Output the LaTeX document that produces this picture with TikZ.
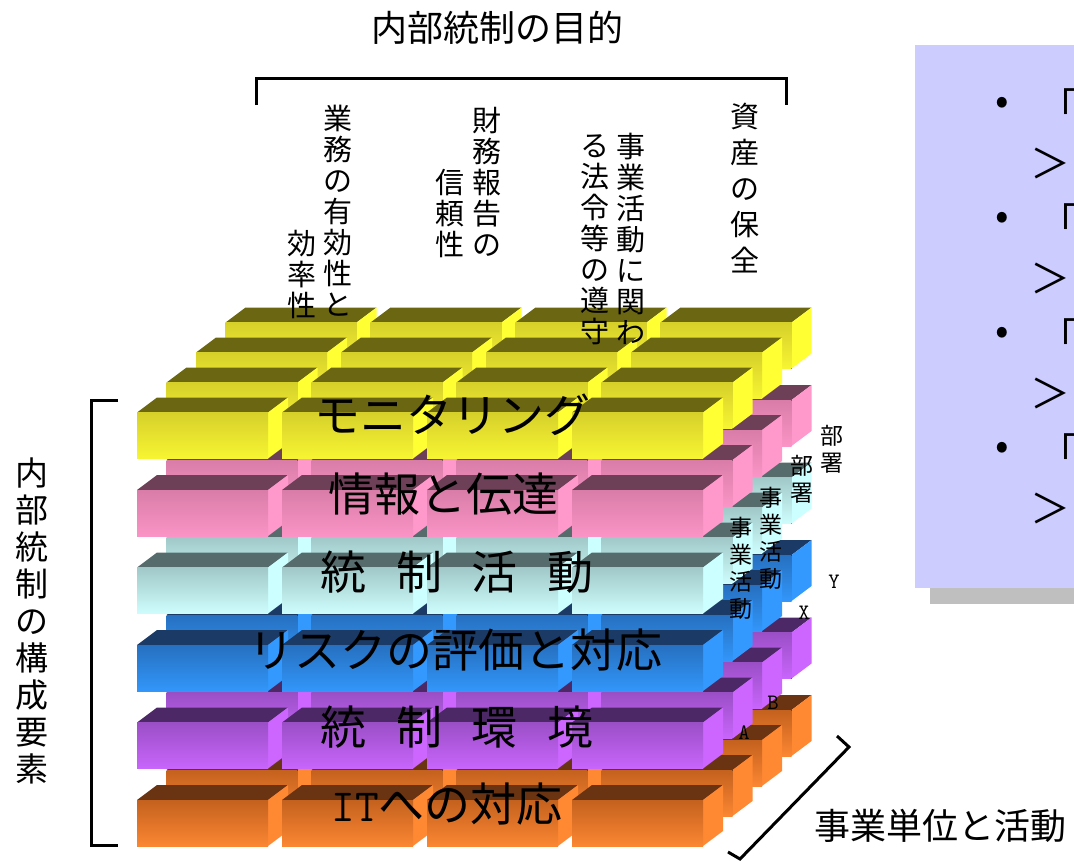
\documentclass[tikz,border=0pt]{standalone}
\usepackage{fontspec}
\setmainfont{Noto Sans CJK JP}
\usepackage{tikz}
\definecolor{yelT}{HTML}{6B6611}
\definecolor{yelA}{HTML}{D6D02A}
\definecolor{yelB}{HTML}{F7F532}
\definecolor{yelS}{HTML}{FFFF33}
\definecolor{pnkT}{HTML}{6E4058}
\definecolor{pnkA}{HTML}{D97DA8}
\definecolor{pnkB}{HTML}{FA94C6}
\definecolor{pnkS}{HTML}{FF99CC}
\definecolor{cyaT}{HTML}{566B6B}
\definecolor{cyaA}{HTML}{A0C8C8}
\definecolor{cyaB}{HTML}{CFFDFD}
\definecolor{cyaS}{HTML}{CCFFFF}
\definecolor{bluT}{HTML}{1B3B66}
\definecolor{bluA}{HTML}{2670C0}
\definecolor{bluB}{HTML}{3296FA}
\definecolor{bluS}{HTML}{3399FF}
\definecolor{purT}{HTML}{4D2866}
\definecolor{purA}{HTML}{9B4FC6}
\definecolor{purB}{HTML}{C965FC}
\definecolor{purS}{HTML}{CC66FF}
\definecolor{ornT}{HTML}{6A3412}
\definecolor{ornA}{HTML}{C4611E}
\definecolor{ornB}{HTML}{FB8632}
\definecolor{ornS}{HTML}{FF8833}
\definecolor{panel}{HTML}{CCCCFF}
\definecolor{panelshade}{HTML}{BFBFBF}
\newcommand{\blok}[3]{%
  \fill[#3T] (#1,#2) -- ++(20,-15) -- ++(131,0) -- ++(-20,15) -- cycle;
  \fill[#3S] (#1+131,#2) -- ++(20,-15) -- ++(0,46) -- ++(-20,15) -- cycle;
  \fill[top color=#3A,bottom color=#3B] (#1,#2) rectangle ++(131,46);}
\newcommand{\jsp}{\hspace{.65em}}
\tikzset{
  brk/.style={line width=3pt},
  lay/.style={inner sep=0pt,font=\fontsize{46}{50}\selectfont},
  vt/.style={align=center,inner sep=0pt,anchor=north,font=\fontsize{29}{31}\selectfont},
  side/.style={align=center,inner sep=0pt,anchor=north,font=\fontsize{23}{27}\selectfont},
  letter/.style={inner sep=0pt,font=\ttfamily\fontsize{22}{24}\selectfont},
  pan/.style={inner sep=0pt,font=\fontsize{40}{44}\selectfont}
}
\begin{document}
\begin{tikzpicture}[x=1pt,y=-1pt]
            \useasboundingbox (0,0) rectangle (1074,860);
            \fill[panelshade] (930,588) rectangle (1074,604);
            \fill[panel] (915,45) rectangle (1074,588);
            \foreach \r in {3,2,1,0}
              \foreach \l/\c in {0/orn,1/pur,2/blu,3/cya,4/pnk,5/yel}
                \foreach \k in {0,1,2,3}
                  {\pgfmathsetmacro\bx{137+145*\k+29.5*\r}
                   \pgfmathsetmacro\by{800-77.5*\l-30*\r}
                   \edef\cell{\noexpand\blok{\bx}{\by}{\c}}\cell}
            \node[lay] (mon) at (452,415) {モニタリング};
            \node[lay] (jyo) at (443,494) {情報と伝達};
            \node[lay] (kat) at (457,572) {統\jsp 制\jsp 活\jsp 動};
            \node[lay] (ris) at (455,650) {リスクの評価と対応};
            \node[lay] (kan) at (457,727) {統\jsp 制\jsp 環\jsp 境};
            \node[lay] (it) at (447,804) {{\ttfamily IT}への対応};
            \node[inner sep=0pt,font=\fontsize{36}{40}\selectfont] (mok) at (497,28) {内部統制の目的};
            \draw[brk] (256,105) -- (256,78) -- (786,78) -- (786,105);
            \node[vt] (g1) at (338,105) {業\\務\\の\\有\\効\\性\\と};
            \node[vt] (g2) at (302,230) {効\\率\\性};
            \node[vt] (z1) at (487,107) {財\\務\\報\\告\\の};
            \node[vt] (z2) at (450,169) {信\\頼\\性};
            \node[vt] (h1) at (631,133) {事\\業\\活\\動\\に\\関\\わ};
            \node[vt] (h2) at (595,134) {る\\法\\令\\等\\の\\遵\\守};
            \node[vt,font=\fontsize{29}{36}\selectfont] (s1) at (745,103) {資\\産\\の\\保\\全};
            \draw[brk] (118,400) -- (91,400) -- (91,845) -- (118,845);
            \node[vt,font=\fontsize{33}{37}\selectfont] (yos) at (32,458) {内\\部\\統\\制\\の\\構\\成\\要\\素};
            \node[side] (bu1) at (832,425) {部\\署};
            \node[side] (bu2) at (802,455) {部\\署};
            \node[side] (jg1) at (771,487) {事\\業\\活\\動};
            \node[side] (jg2) at (741,517) {事\\業\\活\\動};
            \node[letter] (ly) at (834,582) {Y};
            \node[letter] (lx) at (804,613) {X};
            \node[letter] (lb) at (773,703) {B};
            \node[letter] (la) at (744,733) {A};
            \draw[brk] (837,736) -- (849,747) -- (740,859) -- (728,852);
            \node[inner sep=0pt,font=\fontsize{36}{40}\selectfont] (tan) at (940,826) {事業単位と活動};
            \foreach \i/\y in {1/106,2/221,3/336,4/451}
              {\node[pan] (b\i) at (1002,\y) {•};
               \node[pan,anchor=west] (q\i) at (1038,\y) {「};
               \node[pan,anchor=west] (a\i) at (1030,\y+57) {＞};}
\end{tikzpicture}
\end{document}
